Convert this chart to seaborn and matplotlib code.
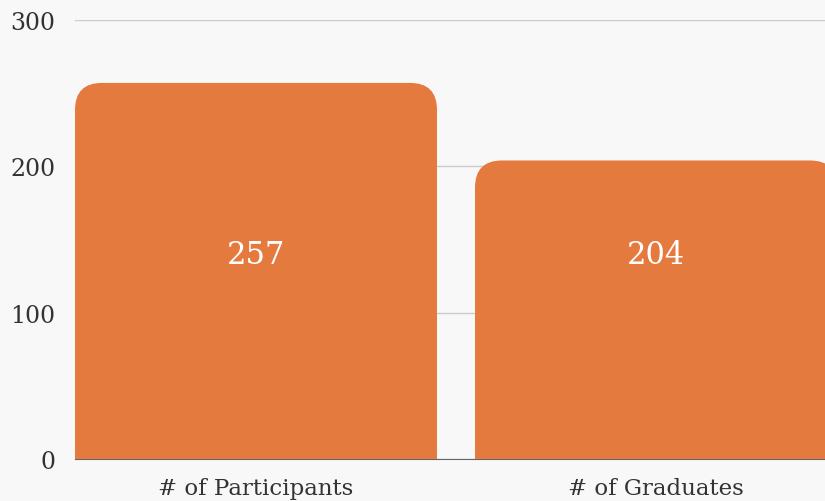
import pandas as pd
import seaborn as sns
import matplotlib.pyplot as plt
from matplotlib.patches import FancyBboxPatch

# data
categories = ['# of Participants', '# of Graduates']
counts = [257, 204]

df = pd.DataFrame({'category': categories, 'count': counts})

sns.set_style('white')
plt.rcParams['font.family'] = ['DejaVu Serif']

bg = '#f8f8f8'
orange = '#e57a3e'

fig = plt.figure(figsize=(8.25, 5.02), dpi=100, facecolor=bg)
ax = fig.add_axes([75/825, 42/502, 750/825, 439/502])
ax.set_facecolor(bg)

sns.barplot(data=df, x='category', y='count', color=orange, width=0.905,
            saturation=1, ax=ax, zorder=2)

ax.set_xlim(-0.4525, 1.4225)
ax.set_ylim(0, 300)

# swap the plain bars for bars with rounded top corners
x_per_px = (1.4225 + 0.4525) / 750
y_per_px = 300 / 439
r = 27 * x_per_px
for p in list(ax.patches):
    x0, w, h = p.get_x(), p.get_width(), p.get_height()
    p.set_visible(False)
    box = FancyBboxPatch((x0, -60), w, h + 60,
                         boxstyle=f'round,pad=0,rounding_size={r}',
                         mutation_aspect=y_per_px / x_per_px,
                         facecolor=orange, edgecolor='none', zorder=2)
    ax.add_patch(box)
    ax.text(p.get_x() + w / 2, 140, str(int(h)), color='white',
            fontsize=22, ha='center', va='center', zorder=3)

ax.set_yticks([0, 100, 200, 300])
ax.yaxis.grid(True, color='#cccccc', linewidth=1, zorder=0)
ax.set_axisbelow(True)
for s in ['top', 'right', 'left']:
    ax.spines[s].set_visible(False)
ax.spines['bottom'].set_color('#666666')
ax.spines['bottom'].set_zorder(1)
ax.tick_params(axis='y', length=0, labelsize=17, colors='#333333', pad=14)
ax.tick_params(axis='x', length=0, labelsize=16.5, colors='#333333', pad=13)
ax.set_xlabel('')
ax.set_ylabel('')

fig.savefig('out.png', dpi=100, facecolor=bg)
